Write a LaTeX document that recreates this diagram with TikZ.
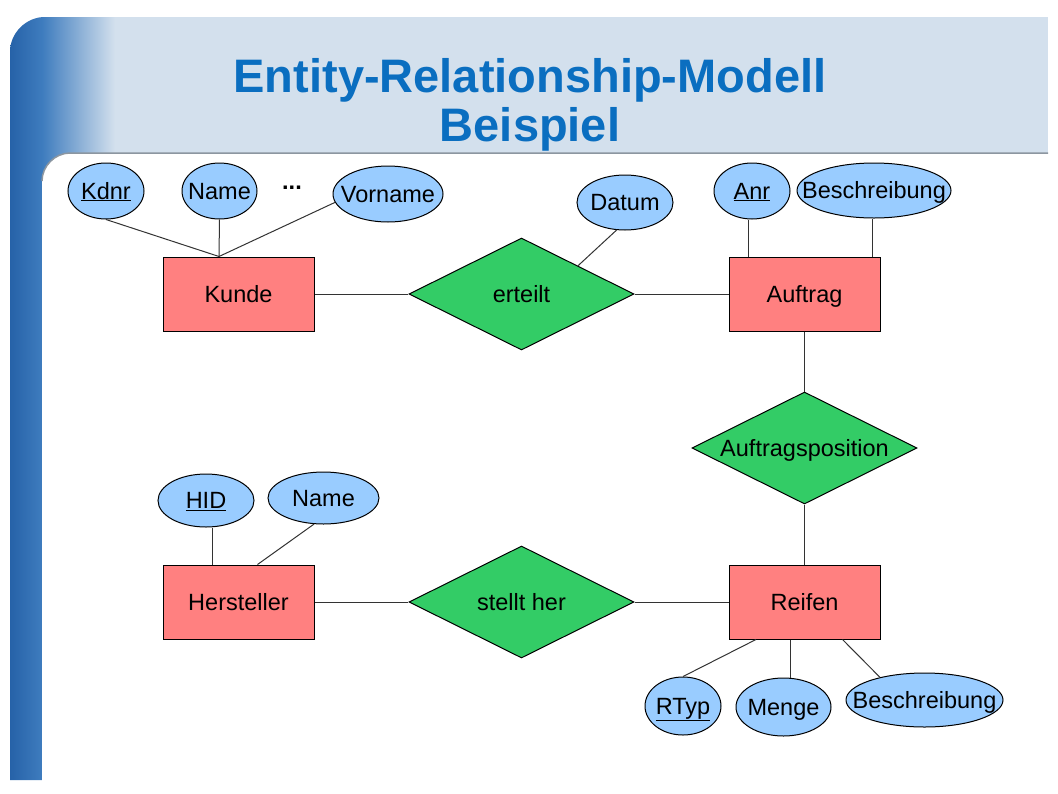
\documentclass[tikz,border=0pt]{standalone}
\usepackage{fontspec}
\setsansfont{Liberation Sans}
\usetikzlibrary{positioning,shapes.geometric}
\definecolor{entityred}{RGB}{255,128,128}
\definecolor{relgreen}{RGB}{51,204,102}
\definecolor{attrblue}{RGB}{153,204,255}
\definecolor{titleblue}{RGB}{10,110,192}
\definecolor{barblue}{RGB}{38,98,168}
\definecolor{barlight}{RGB}{62,124,190}
\definecolor{bandblue}{RGB}{211,224,237}
\definecolor{edgegray}{RGB}{140,150,160}

\begin{document}
\begin{tikzpicture}[x=1pt,y=-1pt,font=\sffamily\fontsize{23.5}{28}\selectfont,
  entity/.style={draw,line width=1pt,fill=entityred,minimum width=151pt,minimum height=74pt,inner sep=0pt,text height=20pt,text depth=4pt},
  relation/.style={draw,line width=1pt,fill=relgreen,diamond,aspect=2,minimum width=225pt,minimum height=112pt,inner sep=0pt,text height=20pt,text depth=4pt},
  attr/.style={draw,line width=1pt,fill=attrblue,ellipse,inner xsep=-20pt,inner ysep=0pt,text height=20pt,text depth=4pt},
  link/.style={line width=1pt,black!80},
  title/.style={font=\sffamily\bfseries\fontsize{47}{50}\selectfont,text=titleblue,anchor=base}]
\useasboundingbox (0,0) rectangle (1058,793);
% slide frame
\begin{scope}
\clip (10,780) -- (10,52) .. controls (10,33) and (26,17) .. (45,17) -- (1048,17) -- (1048,190) -- (42,190) -- (42,780) -- cycle;
\fill[bandblue] (10,17) rectangle (1048,190);
\shade[left color=barlight,middle color=barlight!55!bandblue,right color=bandblue] (42,17) rectangle (115,190);
\shade[left color=barblue,right color=barlight] (10,17) rectangle (42,780);
\end{scope}
\fill[white] (42,793) -- (42,181) .. controls (42,166) and (55,153) .. (70,153) -- (1058,153) -- (1058,793) -- cycle;
\draw[edgegray,line width=1.5pt] (42,181) .. controls (42,166) and (55,153) .. (70,153) -- (1048,153);
\node[title] (heading) at (530,92) {Entity-Relationship-Modell};
\node[title] (subheading) at (530,141) {Beispiel};
% entities and relationships
\node[entity] (kunde) at (238.5,294) {Kunde};
\node[relation,right=94pt of kunde] (erteilt) {erteilt};
\node[entity,right=94pt of erteilt] (auftrag) {Auftrag};
\node[relation,below=60pt of auftrag] (position) {Auftragsposition};
\node[entity,below=60pt of position] (reifen) {Reifen};
\node[relation,left=94pt of reifen] (stellther) {stellt her};
\node[entity,left=94pt of stellther] (hersteller) {Hersteller};
% attributes
\node[attr,minimum width=76pt,minimum height=56pt] (kdnr) at (106,191) {\underline{Kdnr}};
\node[attr,minimum width=75pt,minimum height=56pt] (kname) at (219.5,191) {Name};
\node (dots) at (292,188) {\textbf{...}};
\node[attr,minimum width=110pt,minimum height=56pt] (vorname) at (388,194) {Vorname};
\node[attr,minimum width=96pt,minimum height=55pt] (datum) at (625,202.5) {Datum};
\node[attr,minimum width=76pt,minimum height=56pt] (anr) at (752,191) {\underline{Anr}};
\node[attr,minimum width=154pt,minimum height=55pt] (abesch) at (874,190.5) {Beschreibung};
\node[attr,minimum width=96pt,minimum height=53pt] (hid) at (206,500.5) {\underline{HID}};
\node[attr,minimum width=111pt,minimum height=52pt] (hname) at (323.5,498) {Name};
\node[attr,minimum width=76pt,minimum height=58pt] (rtyp) at (683,706) {\underline{RTyp}};
\node[attr,minimum width=95pt,minimum height=58pt] (menge) at (783.5,707) {Menge};
\node[attr,minimum width=157pt,minimum height=54pt] (rbesch) at (924.5,700) {Beschreibung};
% connectors
\coordinate (kundeTop) at ([xshift=-19.5pt]kunde.north);
\draw[link] (kdnr.south) -- (kundeTop);
\draw[link] (kname.south) -- (kundeTop);
\draw[link] (vorname.189) -- (kundeTop);
\draw[link] (kunde) -- (erteilt);
\draw[link] (erteilt) -- (auftrag);
\draw[link] (datum.253) -- (erteilt.north east);
\coordinate (auftragL) at ([xshift=-56.5pt]auftrag.north);
\coordinate (auftragR) at ([xshift=68pt]auftrag.north);
\draw[link] (auftragL |- anr.south) -- (auftragL);
\draw[link] (auftragR |- abesch.south) -- (auftragR);
\draw[link] (auftrag) -- (position);
\draw[link] (position) -- (reifen);
\draw[link] (hersteller) -- (stellther);
\draw[link] (stellther) -- (reifen);
\coordinate (herstL) at ([xshift=-26pt]hersteller.north);
\coordinate (herstR) at ([xshift=19pt]hersteller.north);
\draw[link] (herstL |- hid.south) -- (herstL);
\draw[link] (hname.250) -- (herstR);
\coordinate (reifenL) at ([xshift=-48.5pt]reifen.south);
\coordinate (reifenM) at ([xshift=-14.5pt]reifen.south);
\coordinate (reifenR) at ([xshift=38pt]reifen.south);
\draw[link] (reifenL) -- (rtyp.north);
\draw[link] (reifenM) -- (reifenM |- menge.north);
\draw[link] (reifenR) -- (rbesch.153);
\end{tikzpicture}
\end{document}
